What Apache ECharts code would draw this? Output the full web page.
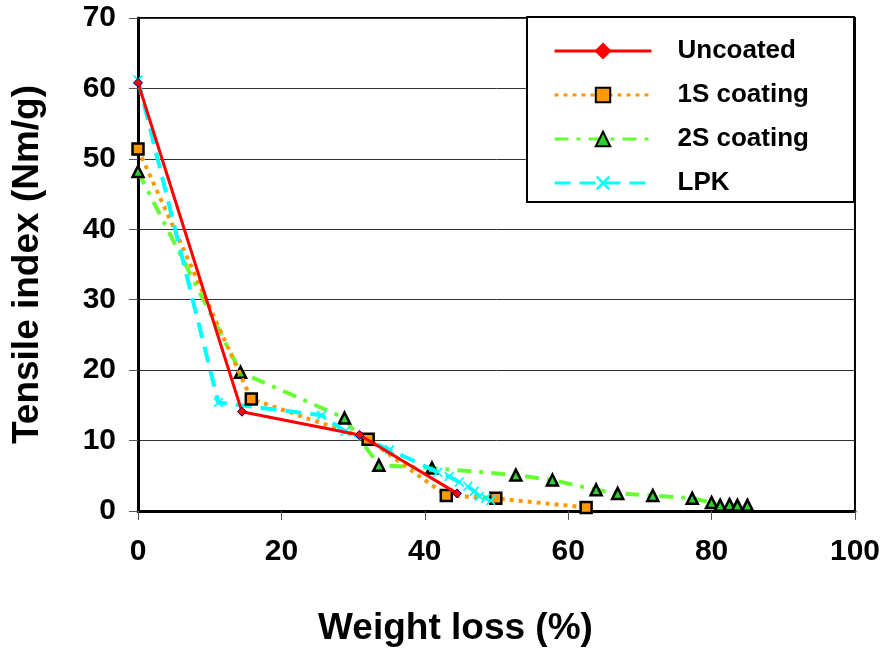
<!DOCTYPE html>
<html>
<head>
<meta charset="utf-8">
<script src="https://cdn.jsdelivr.net/npm/echarts@6/dist/echarts.min.js"></script>
<style>
  html, body {margin: 0; padding: 0; background: #fff;}
  #chart {width: 883px; height: 652px;}
</style>
</head>
<body>
<div id="chart"></div>
<script>
// weight loss (%) / tensile index (Nm/g)
let uncoatedX = [0, 14.5, 30.9, 44.5];
let uncoatedY = [60.8, 14.1, 10.8, 2.5];

let coat1sX = [0, 15.8, 32.1, 43.0, 49.9, 62.5];
let coat1sY = [51.4, 15.9, 10.2, 2.2, 1.8, 0.5];

let coat2sX = [0, 14.3, 28.8, 33.6, 41.0, 52.7, 57.8, 63.9, 66.9, 71.8, 77.3, 80.0, 81.2, 82.5, 83.6, 85.0];
let coat2sY = [48.2, 19.7, 13.2, 6.5, 6.1, 5.1, 4.4, 3.0, 2.5, 2.2, 1.8, 1.2, 0.8, 0.9, 0.8, 0.8];

let lpkX = [0, 11.2, 25.6, 28.9, 35.1, 41.8, 43.4, 44.8, 46.0, 46.9, 47.6, 48.5, 49.2];
let lpkY = [61.2, 15.4, 13.6, 11.3, 8.7, 5.5, 4.9, 4.1, 3.5, 2.8, 2.1, 1.8, 1.5];

let xTicks = [0, 20, 40, 60, 80, 100];
let yTicks = [0, 10, 20, 30, 40, 50, 60, 70];

let pairs = function (xs, ys) {
  return xs.map(function (x, i) {
    return [x, ys[i]];
  });
};

let font = 'Liberation Sans, Arial, sans-serif';
let crossPath = 'path://M0,1.2L1.2,0L5,3.8L8.8,0L10,1.2L6.2,5L10,8.8L8.8,10L5,6.2L1.2,10L0,8.8L3.8,5Z';

let chart = echarts.init(document.getElementById('chart'));
chart.setOption({
  animation: false,
  backgroundColor: '#fff',
  grid: {
    left: 138, right: 28, top: 18, bottom: 139,
    show: true, borderColor: '#000', borderWidth: 2
  },
  xAxis: {
    type: 'value', min: xTicks[0], max: xTicks[xTicks.length - 1], interval: 20,
    name: 'Weight loss (%)', nameLocation: 'middle', nameGap: 99,
    nameTextStyle: {
      fontFamily: font, fontWeight: 'bold', fontSize: 37, color: '#000',
      padding: [0, 82, 0, 0]
    },
    axisLine: {lineStyle: {color: '#000', width: 3}},
    axisTick: {show: true, length: 9, lineStyle: {color: '#555', width: 1}},
    axisLabel: {margin: 26, fontFamily: font, fontWeight: 'bold', fontSize: 30, color: '#000'},
    splitLine: {show: false}
  },
  yAxis: {
    type: 'value', min: yTicks[0], max: yTicks[yTicks.length - 1], interval: 10,
    name: 'Tensile index (Nm/g)', nameLocation: 'middle', nameGap: 92,
    nameTextStyle: {fontFamily: font, fontWeight: 'bold', fontSize: 37, color: '#000'},
    axisLine: {lineStyle: {color: '#000', width: 3}},
    axisTick: {show: true, length: 9, lineStyle: {color: '#555', width: 1}},
    axisLabel: {margin: 22, fontFamily: font, fontWeight: 'bold', fontSize: 30, color: '#000'},
    splitLine: {show: true, lineStyle: {color: '#333', width: 1}}
  },
  legend: {
    orient: 'vertical', left: 548, top: 33,
    itemWidth: 97, itemHeight: 18, itemGap: 18,
    lineStyle: {width: 3},
    textStyle: {fontFamily: font, fontWeight: 'bold', fontSize: 26, color: '#000', padding: [0, 0, 0, 21]},
    data: [
      {name: 'Uncoated', itemStyle: {borderColor: '#ff0000'}},
      '1S coating', '2S coating', 'LPK'
    ]
  },
  graphic: [
    {
      type: 'rect', z: 3,
      shape: {x: 527, y: 17, width: 327, height: 185},
      style: {fill: '#fff', stroke: '#000', lineWidth: 2}
    }
  ],
  series: [
    {
      name: 'Uncoated', type: 'line', data: pairs(uncoatedX, uncoatedY),
      symbol: 'diamond', symbolSize: 9, z: 5,
      lineStyle: {color: '#ff0000', width: 3},
      itemStyle: {color: '#ff0000', borderColor: '#000080', borderWidth: 1}
    },
    {
      name: '1S coating', type: 'line', data: pairs(coat1sX, coat1sY),
      symbol: 'rect', symbolSize: 11, z: 4,
      lineStyle: {color: '#ff9900', width: 4, type: [4, 5]},
      itemStyle: {color: '#ff9900', borderColor: '#000', borderWidth: 2.5}
    },
    {
      name: '2S coating', type: 'line', data: pairs(coat2sX, coat2sY),
      symbol: 'triangle', symbolSize: 11, z: 3,
      lineStyle: {color: '#66ff33', width: 4, type: [14, 8, 4, 8]},
      itemStyle: {color: '#33cc33', borderColor: '#000', borderWidth: 2.5}
    },
    {
      name: 'LPK', type: 'line', data: pairs(lpkX, lpkY),
      symbol: crossPath, symbolSize: 10, z: 4,
      lineStyle: {color: '#00ffff', width: 4, type: [16, 9]},
      itemStyle: {color: '#00ffff'}
    }
  ]
});
</script>
</body>
</html>
